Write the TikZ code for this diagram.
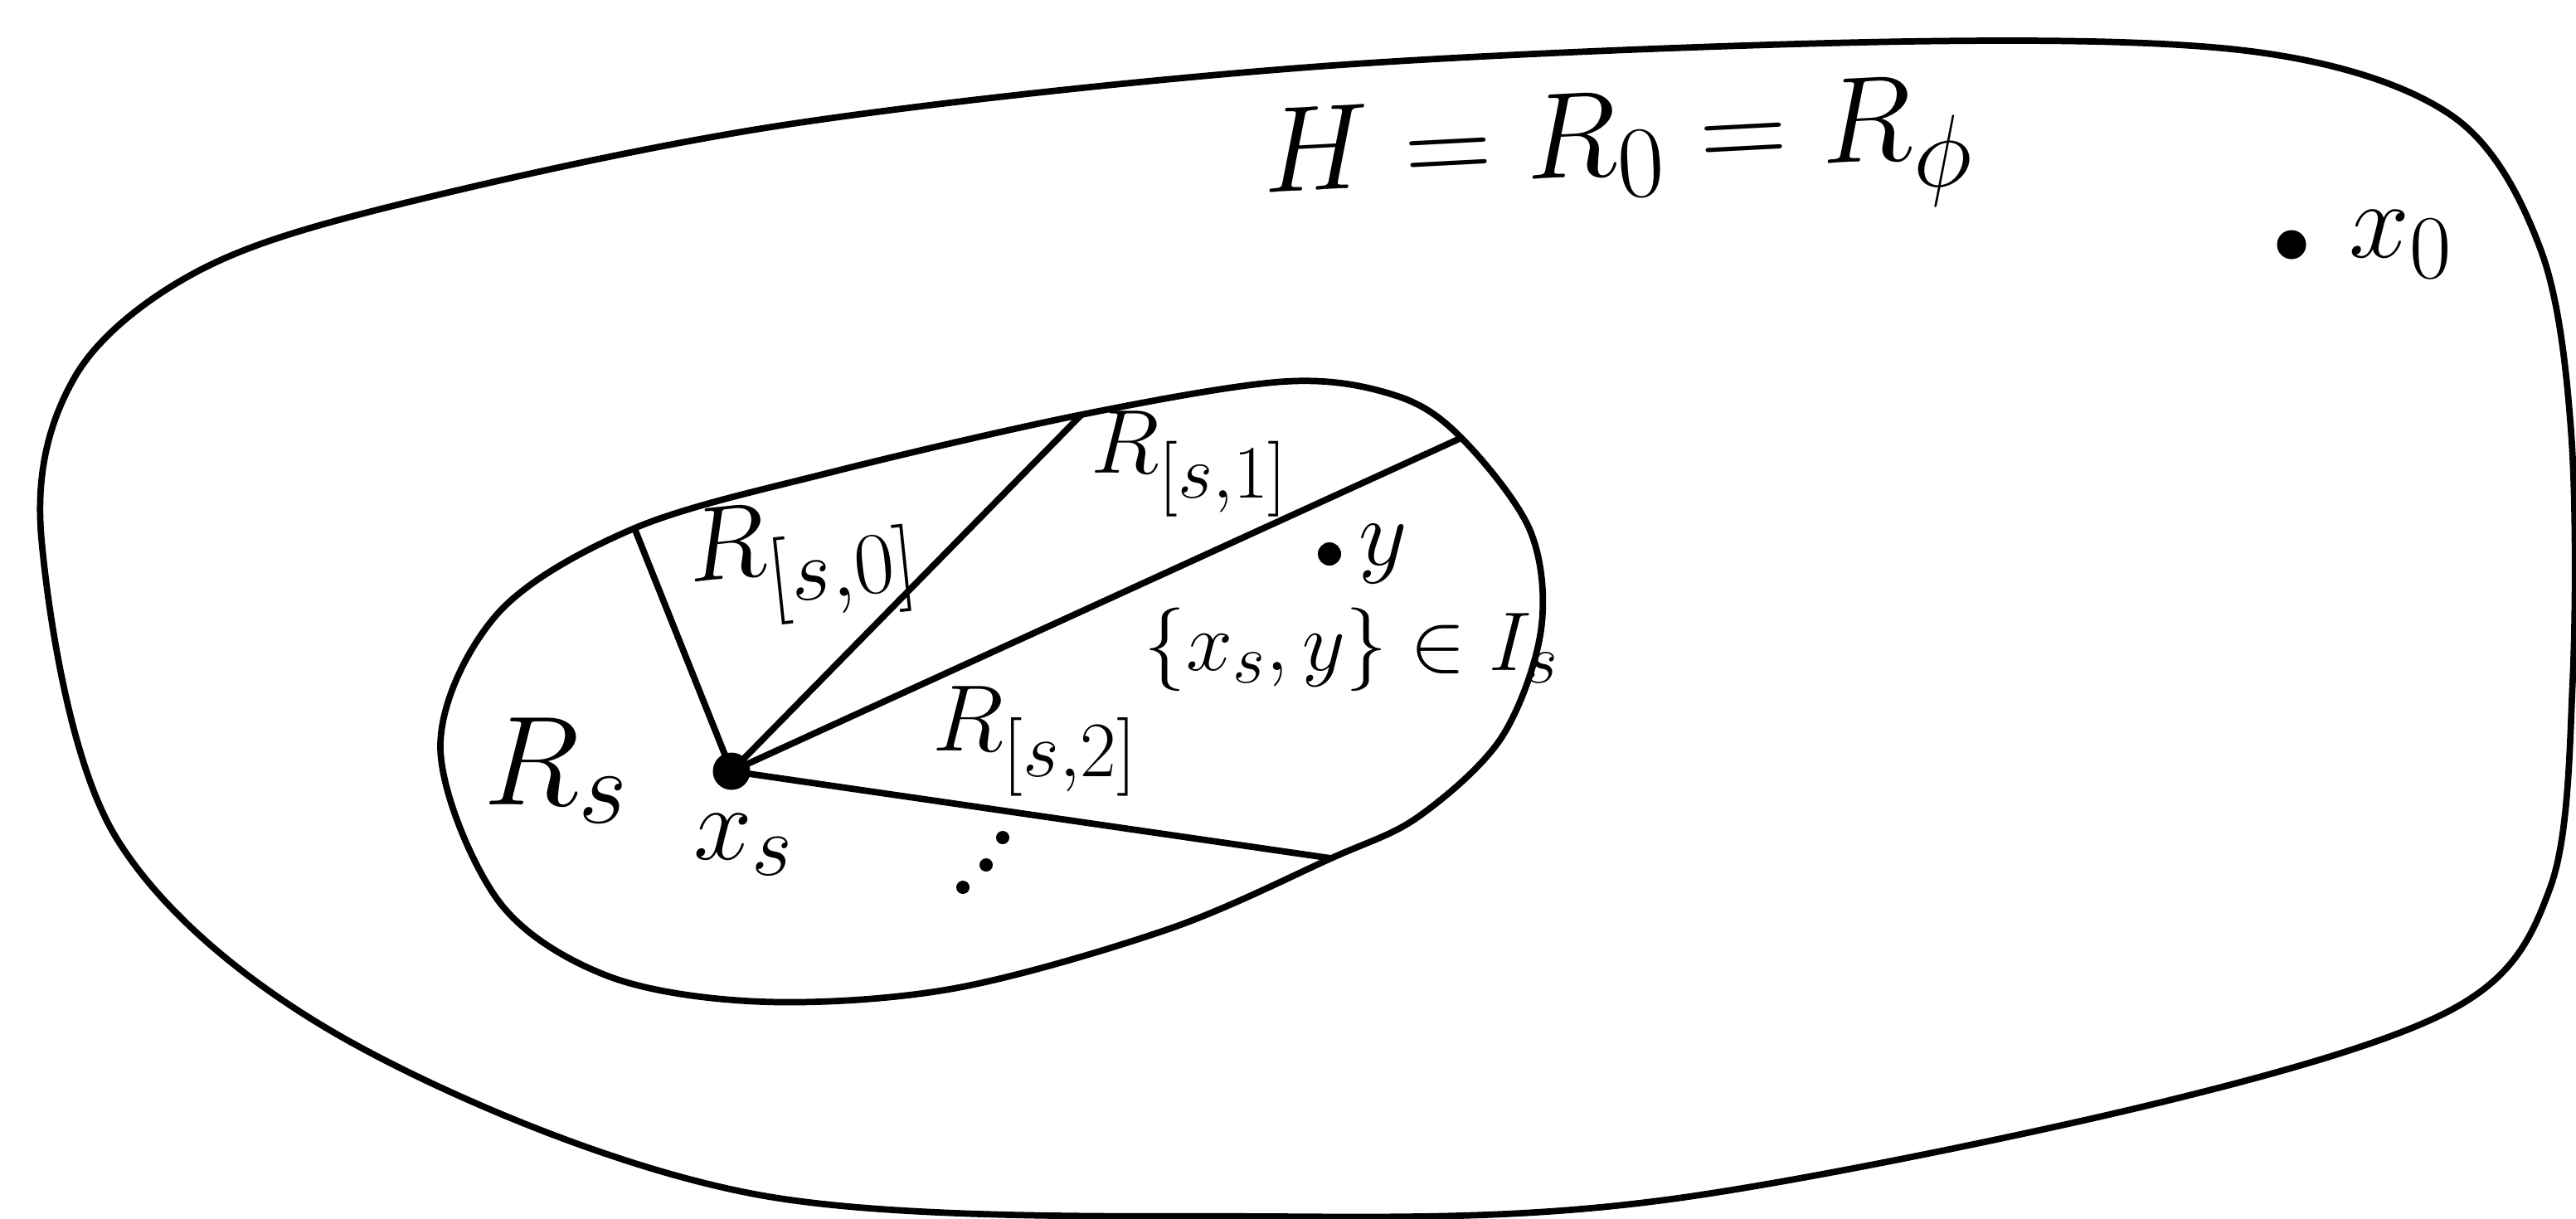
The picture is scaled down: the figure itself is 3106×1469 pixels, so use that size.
\documentclass[tikz,border=0pt]{standalone}
\usetikzlibrary{positioning}

\begin{document}
\begin{tikzpicture}[x=0.01cm,y=-0.01cm,
  region/.style={line width=2.2pt,line join=round},
  spoke/.style={line width=2.2pt,line cap=round},
  dotmark/.style={circle,fill,inner sep=0pt,minimum size=#1},
  lbl/.style={inner sep=0pt,font=\Huge}]
  \path[use as bounding box,fill=white] (0,0) rectangle (3106,1469);
  % outer region H
  \draw[region] plot[smooth cycle,tension=0.55] coordinates {(50,650) (90,455) (233,330) (467,250) (950,150) (1592,80) (2300,50) (2723,63) (2957,140) (3063,300) (3100,520) (3102,820) (3075,1070) (2957,1217) (2590,1333) (2000,1448) (1540,1467) (910,1440) (420,1255) (140,1010)};
  % region R_s with the points where the rays end
  \coordinate (eA) at (765,637);
  \coordinate (eB) at (1304,500);
  \coordinate (eC) at (1762,528);
  \coordinate (eD) at (1605,1035);
  \draw[region] plot[smooth cycle,tension=0.55] coordinates {(531,900) (600,740) (eA) (1000,570) (eB) (1550,460) (1683,477) (eC) (1845,640) (1858,760) (1810,890) (1710,985) (eD) (1410,1120) (1150,1192) (920,1208) (733,1177) (600,1085)};
  \node[dotmark=0.45cm] (xs) at (882,930) {};
  \draw[spoke] (xs.center) -- (eA);
  \draw[spoke] (xs.center) -- (eB);
  \draw[spoke] (xs.center) -- (eC);
  \draw[spoke] (xs.center) -- (eD);
  % labels
  \node[lbl,below=0.28cm of xs,xshift=0.15cm,scale=1.45] (xslbl) {$x_s$};
  \node[lbl,anchor=base west,scale=1.75] (Rs) at (582,970) {$R_s$};
  \node[lbl,anchor=base west,scale=1.45,rotate=6] (Rs0) at (831,703) {$R_{[s,0]}$};
  \node[lbl,anchor=base west,scale=1.25] (Rs1) at (1315,570) {$R_{[s,1]}$};
  \node[lbl,anchor=base west,scale=1.3] (Rs2) at (1124,905) {$R_{[s,2]}$};
  \node[dotmark=0.28cm] (ydot) at (1603,668) {};
  \node[lbl,right=0.2cm of ydot,scale=1.3] (ylbl) {$y$};
  \node[lbl,scale=1.15] (pair) at (1630,783) {$\{x_s,y\}\in I_s$};
  \node[lbl,anchor=base west,scale=1.68,rotate=3] (title) at (1523,233) {$H=R_0=R_\phi$};
  \node[dotmark=0.35cm] (x0dot) at (2763,295) {};
  \node[lbl,right=0.5cm of x0dot,scale=1.5] (x0lbl) {$x_0$};
  \foreach \px/\py in {1209/1010,1189/1043,1161/1070}
    \fill (\px,\py) circle (0.08cm);
\end{tikzpicture}
\end{document}
